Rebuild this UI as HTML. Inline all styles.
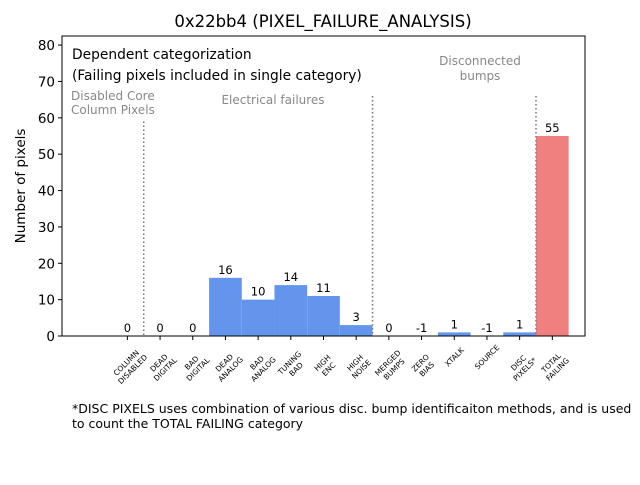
<!DOCTYPE html>
<html><head><meta charset="utf-8"><style>
body{margin:0;background:#fff}
svg{font-family:"DejaVu Sans","Liberation Sans",sans-serif}
</style></head><body>
<svg id="c" width="640" height="480" viewBox="0 0 640 480">
<rect width="640" height="480" fill="#fff"/>
<defs><clipPath id="clip"><rect x="62" y="36" width="523" height="300"/></clipPath></defs>
<text x="323" y="27" font-size="16.5" text-anchor="middle">0x22bb4 (PIXEL_FAILURE_ANALYSIS)</text>
<g id="plot"></g>
<text transform="translate(25,186) rotate(-90)" font-size="13.5" text-anchor="middle">Number of pixels</text>
<text x="72" y="59" font-size="13.8">Dependent categorization</text>
<text x="72" y="80" font-size="13.8">(Failing pixels included in single category)</text>
<text x="71" y="100" font-size="12" fill="#888">Disabled Core</text>
<text x="71" y="114" font-size="12" fill="#888">Column Pixels</text>
<text x="273" y="104" font-size="12" fill="#888" text-anchor="middle">Electrical failures</text>
<text x="480" y="65" font-size="12" fill="#888" text-anchor="middle">Disconnected</text>
<text x="480" y="80" font-size="12" fill="#888" text-anchor="middle">bumps</text>
<text x="72" y="413" font-size="12.5">*DISC PIXELS uses combination of various disc. bump identificaiton methods, and is used</text>
<text x="72" y="428" font-size="12.5">to count the TOTAL FAILING category</text>
</svg>
<script>
const categories=[["COLUMN","DISABLED"],["DEAD","DIGITAL"],["BAD","DIGITAL"],["DEAD","ANALOG"],["BAD","ANALOG"],["TUNING","BAD"],["HIGH","ENC"],["HIGH","NOISE"],["MERGED","BUMPS"],["ZERO","BIAS"],["XTALK"],["SOURCE"],["DISC","PIXELS*"],["TOTAL","FAILING"]];
const values=[0,0,0,16,10,14,11,3,0,-1,1,-1,1,55];
const yTicks=[0,10,20,30,40,50,60,70,80];
const dividers=[[0.5,59],[7.5,66],[12.5,66]];
const L=62,R=585,T=36,B=336,xmin=-2,xmax=14,ymin=0,ymax=82.5;
const X=i=>L+(i-xmin)/(xmax-xmin)*(R-L);
const Y=v=>B-(v-ymin)/(ymax-ymin)*(B-T);
const NS="http://www.w3.org/2000/svg";
const g=document.getElementById('plot');
function mk(t,a){const e=document.createElementNS(NS,t);for(const k in a)e.setAttribute(k,a[k]);g.appendChild(e);return e;}
const w=X(1)-X(0);
values.forEach((v,i)=>{
  const y0=Y(0),y1=Y(v);
  const r=mk('rect',{x:X(i)-w/2,y:Math.min(y0,y1),width:w,height:Math.abs(y1-y0),fill:i===13?'#F08080':'#6495ED','clip-path':'url(#clip)'});
  
  
  const t=mk('text',{x:X(i),y:Y(Math.max(v,0))-4,'font-size':11.5,'text-anchor':'middle'});
  t.textContent=v;
  
  
  const tk=mk('line',{x1:X(i),x2:X(i),y1:B,y2:B+4,stroke:'#000'});
  
  
  const lines=categories[i];
  const two=lines.length>1;
  const lab=mk('text',{transform:`translate(${X(i)+(two?2:0)},${two?366:357}) rotate(-45)`,'font-size':7.5,'text-anchor':'middle'});
  
  
  lines.forEach((s,j)=>{const ts=document.createElementNS(NS,'tspan');ts.setAttribute('x',0);ts.setAttribute('y',(j-(lines.length-1)/2)*9+2.7);ts.textContent=s;lab.appendChild(ts);});
});
dividers.forEach(d=>{
  const l=mk('line',{x1:X(d[0]),x2:X(d[0]),y1:Y(d[1]),y2:B,stroke:'#777','stroke-width':1.5,'stroke-dasharray':'1.5,2.5'});
  
  
});
yTicks.forEach(v=>{
  const l=mk('line',{x1:L-4,x2:L,y1:Y(v),y2:Y(v),stroke:'#000'});
  
  
  const t=mk('text',{x:L-7,y:Y(v)+5,'font-size':13.5,'text-anchor':'end'});
  t.textContent=v;
  
  
});
const f=mk('rect',{x:L,y:T,width:R-L,height:B-T,fill:'none',stroke:'#000'});


</script>
</body></html>
